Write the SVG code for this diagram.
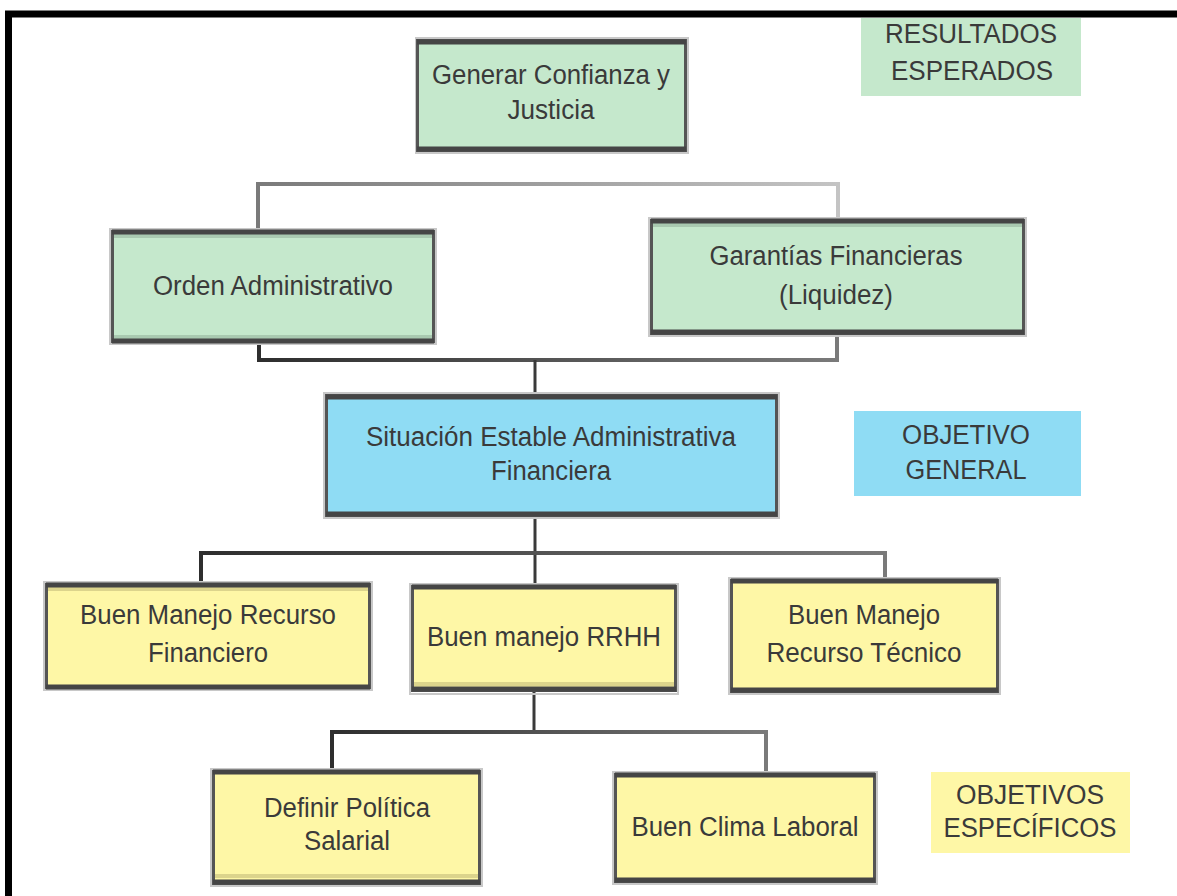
<svg xmlns="http://www.w3.org/2000/svg" width="1177" height="896" viewBox="0 0 1177 896">
  <defs>
    <linearGradient id="gradTop" x1="0" y1="0" x2="1" y2="0">
      <stop offset="0" stop-color="#7a7a7a"/>
      <stop offset="1" stop-color="#c4c4c4"/>
    </linearGradient>
    <linearGradient id="gradLow" x1="0" y1="0" x2="1" y2="0">
      <stop offset="0" stop-color="#2e2e2e"/>
      <stop offset="1" stop-color="#7a7a7a"/>
    </linearGradient>
    <style>
      .frame { fill: none; stroke: #000; stroke-width: 7; }
      .box { stroke: #555; stroke-width: 3; }
      .shadow { fill: none; stroke: #c8c8c8; stroke-width: 2; }
      .edge { fill: none; stroke: #454545; stroke-width: 5; }
      .green { fill: #c5e8cc; }
      .blue { fill: #8fdcf4; }
      .yellow { fill: #fef7a6; }
      .bandG { fill: #a9c9b0; }
      .bandY { fill: #dcd48c; }
      .tag { stroke: none; }
      .lbl { font-family: "Liberation Sans", Arial, sans-serif; font-size: 27px; fill: #3a3a3a; text-anchor: middle; }
      .wire { fill: none; stroke: #3a3a3a; stroke-width: 3; }
      .wireTop { fill: none; stroke: url(#gradTop); stroke-width: 4; }
      .wireLow { fill: none; stroke: url(#gradLow); stroke-width: 4; }
    </style>
  </defs>

  <rect width="1177" height="896" fill="#fff"/>

  <!-- outer frame, running off the right and bottom edges -->
  <rect class="frame" x="8.5" y="14" width="1200" height="920"/>

  <!-- legend tags -->
  <g id="tag-resultados">
    <rect class="tag green" x="861" y="18" width="220" height="78"/>
    <text class="lbl" x="971" y="43" textLength="172" lengthAdjust="spacingAndGlyphs">RESULTADOS</text>
    <text class="lbl" x="972" y="80" textLength="162" lengthAdjust="spacingAndGlyphs">ESPERADOS</text>
  </g>
  <g id="tag-objetivo-general">
    <rect class="tag blue" x="854" y="411" width="227" height="85"/>
    <text class="lbl" x="966" y="444" textLength="128" lengthAdjust="spacingAndGlyphs">OBJETIVO</text>
    <text class="lbl" x="966" y="479" textLength="121" lengthAdjust="spacingAndGlyphs">GENERAL</text>
  </g>
  <g id="tag-objetivos-especificos">
    <rect class="tag yellow" x="931" y="772" width="199" height="81"/>
    <text class="lbl" x="1030" y="804" textLength="148" lengthAdjust="spacingAndGlyphs">OBJETIVOS</text>
    <text class="lbl" x="1030" y="837" textLength="173" lengthAdjust="spacingAndGlyphs">ESPECÍFICOS</text>
  </g>

  <!-- connectors -->
  <g id="connectors">
    <path class="wireTop" d="M258 231 V184 H838 V219"/>
    <path class="wireLow" d="M259 342 V360 H837 V334"/>
    <path class="wire" d="M535 360 V394"/>
    <path class="wire" d="M535 516 V585"/>
    <path class="wireLow" d="M201 583 V553 H885 V579"/>
    <path class="wire" d="M534 691 V732"/>
    <path class="wireLow" d="M332 770 V732 H766 V773"/>
  </g>

  <!-- result level -->
  <g id="n-confianza">
    <rect class="shadow" x="416" y="38" width="272" height="115"/>
    <rect class="box green" x="417.5" y="40.5" width="268" height="110"/>
    <path class="edge" d="M417 42 H686 M417 149 H686"/>
    <text class="lbl" x="551" y="84" textLength="238" lengthAdjust="spacingAndGlyphs">Generar Confianza y</text>
    <text class="lbl" x="551" y="119" textLength="87" lengthAdjust="spacingAndGlyphs">Justicia</text>
  </g>

  <g id="n-orden">
    <rect class="shadow" x="110" y="229" width="326" height="115"/>
    <rect class="box green" x="112.5" y="231.5" width="321" height="110"/>
    <rect class="bandG" x="114" y="234" width="318" height="4"/>
    <rect class="bandG" x="114" y="335" width="318" height="4"/>
    <path class="edge" d="M112 232 H434 M112 341 H434"/>
    <text class="lbl" x="273" y="295" textLength="240" lengthAdjust="spacingAndGlyphs">Orden Administrativo</text>
  </g>

  <g id="n-garantias">
    <rect class="shadow" x="649" y="218" width="377" height="118"/>
    <rect class="box green" x="651.5" y="220.5" width="372" height="113"/>
    <rect class="bandG" x="653" y="223" width="369" height="4"/>
    <path class="edge" d="M651 221 H1024 M651 332 H1024"/>
    <text class="lbl" x="836" y="265" textLength="253" lengthAdjust="spacingAndGlyphs">Garantías Financieras</text>
    <text class="lbl" x="836" y="304" textLength="114" lengthAdjust="spacingAndGlyphs">(Liquidez)</text>
  </g>

  <!-- general objective -->
  <g id="n-situacion">
    <rect class="shadow" x="324" y="393" width="455" height="125"/>
    <rect class="box blue" x="326.5" y="395.5" width="450" height="120"/>
    <path class="edge" d="M326 397 H777 M326 514 H777" stroke="#55707c"/>
    <text class="lbl" x="551" y="446" textLength="370" lengthAdjust="spacingAndGlyphs">Situación Estable Administrativa</text>
    <text class="lbl" x="551" y="480" textLength="120" lengthAdjust="spacingAndGlyphs">Financiera</text>
  </g>

  <!-- specific objectives -->
  <g id="n-recurso-financiero">
    <rect class="shadow" x="44" y="582" width="328" height="108"/>
    <rect class="box yellow" x="46.5" y="584.5" width="323" height="103"/>
    <rect class="bandY" x="48" y="587" width="320" height="4"/>
    <path class="edge" d="M46 585 H370 M46 687 H370"/>
    <text class="lbl" x="208" y="624" textLength="256" lengthAdjust="spacingAndGlyphs">Buen Manejo Recurso</text>
    <text class="lbl" x="208" y="662" textLength="120" lengthAdjust="spacingAndGlyphs">Financiero</text>
  </g>

  <g id="n-rrhh">
    <rect class="shadow" x="410" y="584" width="268" height="110"/>
    <rect class="box yellow" x="412.5" y="586.5" width="263" height="104"/>
    <rect class="bandY" x="414" y="682" width="260" height="4"/>
    <path class="edge" d="M412 587 H676 M412 689 H676"/>
    <text class="lbl" x="544" y="646" textLength="234" lengthAdjust="spacingAndGlyphs">Buen manejo RRHH</text>
  </g>

  <g id="n-recurso-tecnico">
    <rect class="shadow" x="729" y="578" width="271" height="116"/>
    <rect class="box yellow" x="731.5" y="580.5" width="266" height="111"/>
    <path class="edge" d="M731 581 H998 M731 690 H998"/>
    <text class="lbl" x="864" y="624" textLength="152" lengthAdjust="spacingAndGlyphs">Buen Manejo</text>
    <text class="lbl" x="864" y="662" textLength="195" lengthAdjust="spacingAndGlyphs">Recurso Técnico</text>
  </g>

  <g id="n-politica">
    <rect class="shadow" x="211" y="769" width="271" height="117"/>
    <rect class="box yellow" x="213.5" y="771.5" width="266" height="112"/>
    <rect class="bandY" x="215" y="874" width="263" height="4"/>
    <path class="edge" d="M213 772 H480 M213 882 H480"/>
    <text class="lbl" x="347" y="817" textLength="166" lengthAdjust="spacingAndGlyphs">Definir Política</text>
    <text class="lbl" x="347" y="850" textLength="86" lengthAdjust="spacingAndGlyphs">Salarial</text>
  </g>

  <g id="n-clima">
    <rect class="shadow" x="613" y="772" width="264" height="112"/>
    <rect class="box yellow" x="615.5" y="774.5" width="259" height="107"/>
    <path class="edge" d="M615 775 H875 M615 880 H875"/>
    <text class="lbl" x="745" y="836" textLength="227" lengthAdjust="spacingAndGlyphs">Buen Clima Laboral</text>
  </g>
</svg>
